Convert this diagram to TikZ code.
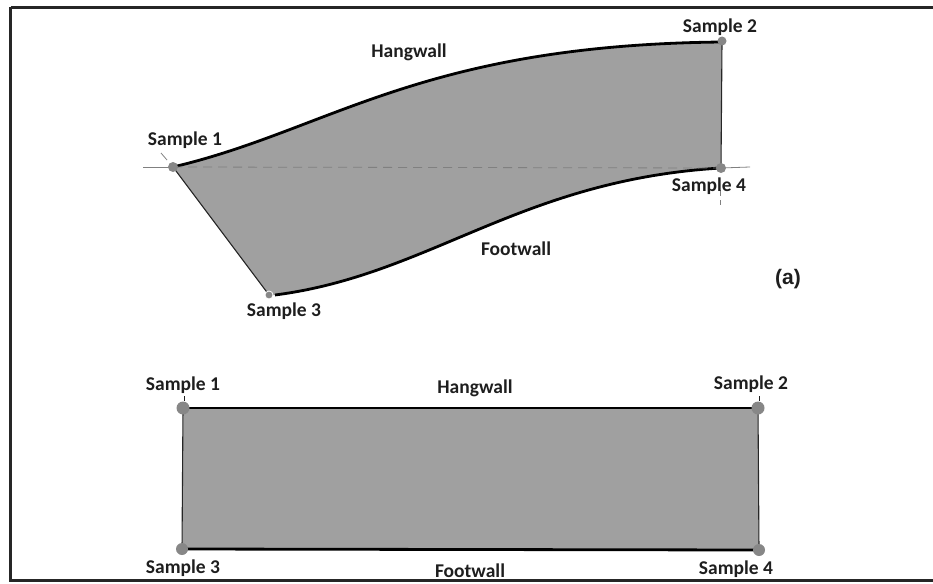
\documentclass[tikz,border=0pt]{standalone}
\usepackage{fontspec}
\setmainfont{Carlito}
\newfontfamily\arialfont{Liberation Sans}
\usetikzlibrary{calc}
\definecolor{fillgray}{RGB}{160,160,160}
\definecolor{dotgray}{RGB}{135,135,135}
\definecolor{txt}{RGB}{30,30,30}
\tikzset{
  lbl/.style={font=\fontsize{19.5}{21}\selectfont\bfseries, text=txt, inner sep=0pt},
  dot/.style={circle, fill=dotgray, inner sep=0pt, minimum size=10pt},
  wall/.style={line width=2.8pt, black},
  side/.style={line width=1.1pt, black!85},
  guide/.style={gray, line width=0.8pt},
}
\begin{document}
\begin{tikzpicture}[x=1pt,y=-1pt]
\useasboundingbox (0,0) rectangle (933,583);
% frame
\draw[line width=3pt, black!85] (10.5,7.5) -- (940,7.5);
\draw[line width=3pt, black!85] (10.5,7.5) -- (10.5,580.5) -- (940,580.5);

% ---------- top figure ----------
\coordinate (s1) at (173,167);
\coordinate (s2) at (722,42);
\coordinate (s4) at (721,168);
\coordinate (s3) at (269,295);
\coordinate (s3b) at (275,295);
\fill[fillgray] (s1) .. controls (330,130) and (420,45) .. (s2) -- (s4) .. controls (520,180) and (430,275) .. (s3b) -- (s3) -- cycle;
\draw[wall] (s1) .. controls (330,130) and (420,45) .. (s2);
\draw[wall] (s4) .. controls (520,180) and (430,275) .. (s3b);
\draw[side] (s2) -- (s4);
\draw[side] (s1) -- (s3);
% guide lines
\coordinate (gl) at (143,167);
\coordinate (gr) at (750,167);
\draw[guide] (gl) -- (s1);
\draw[guide, dashed, dash pattern=on 9pt off 6pt] (s1) -- (s4);
\draw[guide] (s4) -- (gr);
\coordinate (v1) at (720,190);
\coordinate (v2) at (720,205);
\draw[guide, dashed, dash pattern=on 6pt off 4pt] (v1) -- (v2);
\coordinate (t1) at (161,153);
\coordinate (t2) at (167,160);
\draw[guide] (t1) -- (t2);
\node[dot] (d1) at (s1) {};
\node[dot, minimum size=9pt] (d2) at (722,41) {};
\node[dot] (d4) at (721,168) {};
\node[dot, minimum size=8pt, draw=white, line width=0.8pt] (d3) at (s3) {};
\node[lbl] (l1) at (185,140) {Sample 1};
\node[lbl] (l2) at (720,27) {Sample 2};
\node[lbl] (l4) at (709,186) {Sample 4};
\node[lbl] (l3) at (284,311) {Sample 3};
\node[lbl] (hw) at (409,52) {Hangwall};
\node[lbl] (fw) at (516,249) {Footwall};
\node[font=\arialfont\fontsize{21}{23}\selectfont\bfseries, text=txt, inner sep=0pt] (a) at (788,279) {(a)};

% ---------- bottom figure ----------
\coordinate (b1) at (183,408);
\coordinate (b2) at (758,408);
\coordinate (b3) at (182,549);
\coordinate (b4) at (759,550);
\fill[fillgray] (b1) -- (b2) -- (b4) -- (b3) -- cycle;
\draw[wall] (b1) -- (b2);
\draw[wall] (b3) -- (b4);
\draw[side] (b1) -- (b3);
\draw[side] (b2) -- (b4);
\coordinate (k1a) at (184,396);
\coordinate (k1b) at (184,401);
\draw[txt, line width=0.7pt] (k1a) -- (k1b);
\coordinate (k2a) at (759,396);
\coordinate (k2b) at (759,401);
\draw[txt, line width=0.7pt] (k2a) -- (k2b);
\node[dot, minimum size=13pt] (e1) at (b1) {};
\node[dot, minimum size=13pt] (e2) at (b2) {};
\node[dot, minimum size=12pt] (e3) at (b3) {};
\node[dot, minimum size=12pt] (e4) at (b4) {};
\node[lbl] (m1) at (183,385) {Sample 1};
\node[lbl] (m2) at (751,384) {Sample 2};
\node[lbl] (m3) at (183,568) {Sample 3};
\node[lbl] (m4) at (736,569) {Sample 4};
\node[lbl] (mh) at (475,388) {Hangwall};
\node[lbl] (mf) at (470,571) {Footwall};
\end{tikzpicture}
\end{document}
